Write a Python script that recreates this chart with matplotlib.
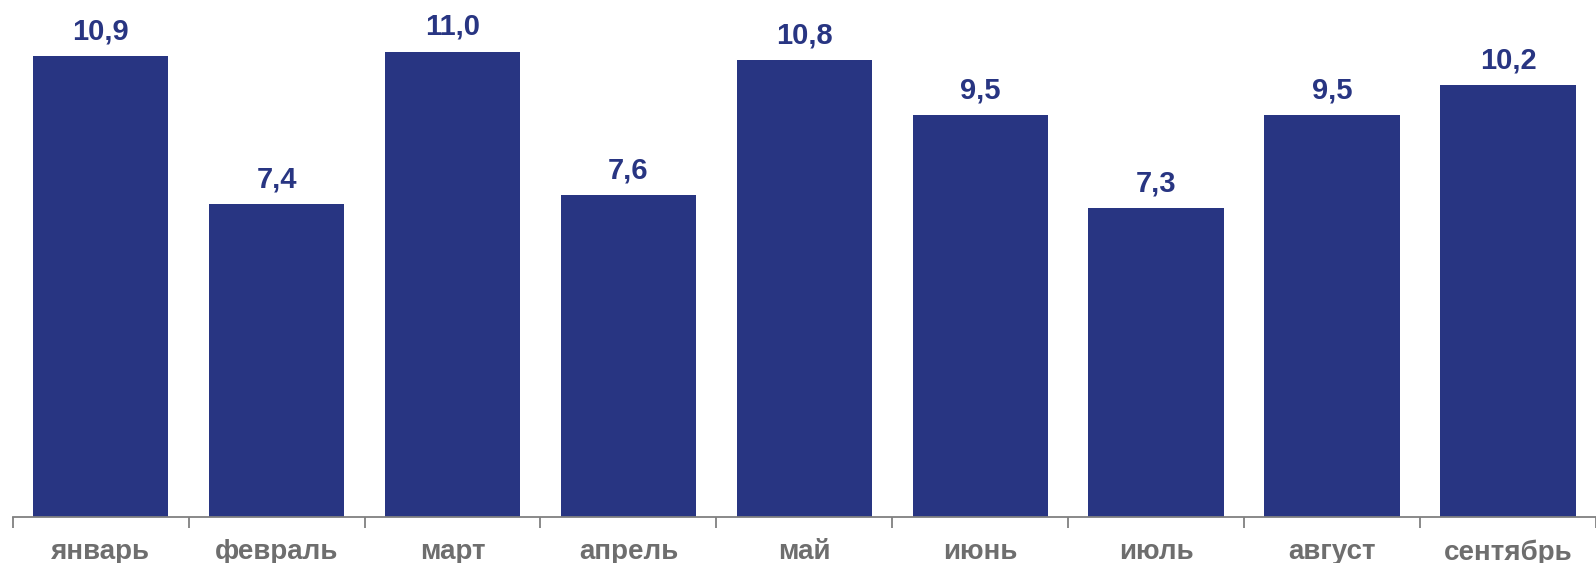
import matplotlib.pyplot as plt

months = ['январь', 'февраль', 'март', 'апрель', 'май', 'июнь', 'июль', 'август', 'сентябрь']
values = [10.9, 7.4, 11.0, 7.6, 10.8, 9.5, 7.3, 9.5, 10.2]

navy = '#283582'
grey = '#6e6e6e'

plt.rcParams['font.family'] = ['Liberation Sans', 'DejaVu Sans']

fig = plt.figure(figsize=(15.96, 5.63), dpi=100)
ax = fig.add_axes([12.7 / 1596, 46 / 563, 1 - 12.7 / 1596, 517 / 563])

x = list(range(len(months)))
bars = ax.bar(x, values, width=0.77, color=navy)

for xi, v in zip(x, values):
    ax.annotate(f'{v:.1f}'.replace('.', ','), (xi, v), xytext=(0, 12), textcoords='offset points',
                ha='center', va='baseline', fontsize=21, fontweight='bold', color=navy)

ax.set_xlim(-0.5, 8.395)
ax.set_ylim(0, 12.22)

for s in ['top', 'right', 'left']:
    ax.spines[s].set_visible(False)
ax.spines['bottom'].set_color('#808080')
ax.spines['bottom'].set_linewidth(1.3)

ax.set_yticks([])
ax.set_xticks(x)
ax.set_xticklabels(months, fontsize=20, fontweight='bold', color=grey)
ax.tick_params(axis='x', which='major', length=0, pad=16)
ax.set_xticks([i - 0.5 for i in range(len(months) + 1)], minor=True)
ax.tick_params(axis='x', which='minor', length=8, width=1.3, color='#808080')

fig.savefig('out.png', dpi=100)
